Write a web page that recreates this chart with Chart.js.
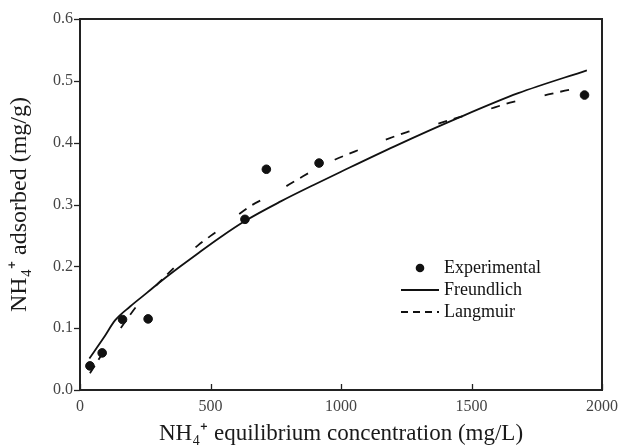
<!DOCTYPE html>
<html>
<head>
<meta charset="utf-8">
<script src="https://cdn.jsdelivr.net/npm/chart.js@4.4.1/dist/chart.umd.min.js"></script>
<style>
  html, body { margin: 0; padding: 0; background: #fff; }
  #wrap { width: 620px; height: 445px; }
</style>
</head>
<body>
<div id="wrap"><canvas id="grafico" width="620" height="445"></canvas></div>
<script>
// ===============================
// Datos
// ===============================
const expX = [38, 85, 163, 261, 632, 714, 916, 1933];
const expY = [0.039, 0.060, 0.114, 0.115, 0.276, 0.357, 0.367, 0.477];

const freX = [36, 90, 135, 192, 256, 308, 385, 449, 538, 635, 769, 897, 1000, 1205, 1449, 1679, 1942];
const freY = [0.051, 0.084, 0.113, 0.135, 0.157, 0.175, 0.200, 0.220, 0.247, 0.274, 0.305, 0.332, 0.353, 0.394, 0.440, 0.480, 0.517];

const lanX = [38, 113, 135, 231, 263, 308, 452, 526, 651, 731, 856, 923, 1054, 1128, 1253, 1333, 1461, 1535, 1660, 1733, 1858, 1932];
const lanY = [0.027, 0.076, 0.088, 0.143, 0.157, 0.176, 0.234, 0.257, 0.297, 0.315, 0.346, 0.362, 0.386, 0.398, 0.417, 0.426, 0.442, 0.450, 0.466, 0.472, 0.484, 0.490];

const xTicks = [0, 500, 1000, 1500, 2000];
const yTicks = [0, 0.1, 0.2, 0.3, 0.4, 0.5, 0.6];

const serif = '"Liberation Serif", "Times New Roman", serif';

function pares(xs, ys) {
  return xs.map((x, i) => ({ x: x, y: ys[i] }));
}

// ===============================
// Marco, marcas de los ejes y leyenda
// ===============================
const marcoPlugin = {
  id: 'marco',
  afterDraw(chart) {
    const ctx = chart.ctx;
    const a = chart.chartArea;
    const sx = chart.scales.x;
    const sy = chart.scales.y;
    ctx.save();
    ctx.strokeStyle = '#222';
    ctx.lineWidth = 2;
    ctx.strokeRect(a.left, a.top, a.right - a.left, a.bottom - a.top);

    // marcas del eje x hacia dentro
    ctx.lineWidth = 1.3;
    xTicks.forEach(v => {
      const px = Math.round(sx.getPixelForValue(v)) + 0.5;
      ctx.beginPath();
      ctx.moveTo(px, a.bottom);
      ctx.lineTo(px, a.bottom - 6);
      ctx.stroke();
    });
    // marcas del eje y hacia fuera
    yTicks.forEach(v => {
      const py = Math.round(sy.getPixelForValue(v)) + 0.5;
      ctx.beginPath();
      ctx.moveTo(a.left, py);
      ctx.lineTo(a.left - 6, py);
      ctx.stroke();
    });

    // leyenda
    const lx = 420, ly = 268, paso = 22;
    ctx.fillStyle = '#111';
    ctx.strokeStyle = '#111';
    ctx.font = '18px ' + serif;
    ctx.textBaseline = 'middle';
    ctx.textAlign = 'left';
    chart.data.datasets.forEach((ds, i) => {
      const y = ly + i * paso;
      if (ds.showLine === false) {
        ctx.beginPath();
        ctx.arc(lx, y, 4.3, 0, Math.PI * 2);
        ctx.fill();
      } else {
        ctx.lineWidth = 1.8;
        ctx.setLineDash(ds.borderDash && ds.borderDash.length ? [7, 5] : []);
        ctx.beginPath();
        ctx.moveTo(lx - 19, y);
        ctx.lineTo(lx + 19, y);
        ctx.stroke();
        ctx.setLineDash([]);
      }
      ctx.fillText(ds.label, lx + 24, y);
    });
    ctx.restore();
  }
};

// ===============================
// Gráfico
// ===============================
document.addEventListener('DOMContentLoaded', function () {
  const ctx = document.getElementById('grafico').getContext('2d');
  new Chart(ctx, {
    type: 'scatter',
    data: {
      datasets: [
        {
          label: 'Experimental',
          data: pares(expX, expY),
          showLine: false,
          pointRadius: 4.3,
          pointBackgroundColor: '#111',
          pointBorderColor: '#111',
          order: 0
        },
        {
          label: 'Freundlich',
          data: pares(freX, freY),
          showLine: true,
          borderColor: '#111',
          borderWidth: 1.8,
          pointRadius: 0,
          cubicInterpolationMode: 'monotone',
          order: 1
        },
        {
          label: 'Langmuir',
          data: pares(lanX, lanY),
          showLine: true,
          borderColor: '#111',
          borderWidth: 1.8,
          borderDash: [9, 7, 9, 30],
          pointRadius: 0,
          cubicInterpolationMode: 'monotone',
          order: 2
        }
      ]
    },
    options: {
      responsive: false,
      animation: false,
      devicePixelRatio: 1,
      layout: { padding: { top: 19, right: 18, left: 0, bottom: 0 } },
      plugins: {
        legend: { display: false },
        tooltip: { enabled: false }
      },
      scales: {
        x: {
          type: 'linear',
          min: 0,
          max: 2000,
          afterBuildTicks: s => { s.ticks = xTicks.map(v => ({ value: v })); },
          afterFit: s => { s.height = 55; s.paddingLeft = 0; s.paddingRight = 0; },
          grid: { display: false, drawTicks: false },
          border: { display: false },
          ticks: {
            padding: 7,
            color: '#444',
            font: { family: serif, size: 16 },
            callback: v => String(v)
          },
          title: {
            display: true,
            text: 'NH\u2084\u207A equilibrium concentration (mg/L)',
            color: '#1a1a1a',
            font: { family: serif, size: 23, lineHeight: 1 },
            padding: { top: 0, bottom: 0 }
          }
        },
        y: {
          type: 'linear',
          min: 0,
          max: 0.6,
          afterBuildTicks: s => { s.ticks = yTicks.map(v => ({ value: v })); },
          afterFit: s => { s.width = 80; s.paddingTop = 0; s.paddingBottom = 0; },
          grid: { display: false, drawTicks: false },
          border: { display: false },
          ticks: {
            padding: 7,
            color: '#444',
            font: { family: serif, size: 16 },
            callback: v => Number(v).toFixed(1)
          },
          title: {
            display: true,
            text: 'NH\u2084\u207A adsorbed (mg/g)',
            color: '#1a1a1a',
            font: { family: serif, size: 24, lineHeight: 1 },
            padding: { top: 8, bottom: 0 }
          }
        }
      }
    },
    plugins: [marcoPlugin]
  });
});
</script>
</body>
</html>
